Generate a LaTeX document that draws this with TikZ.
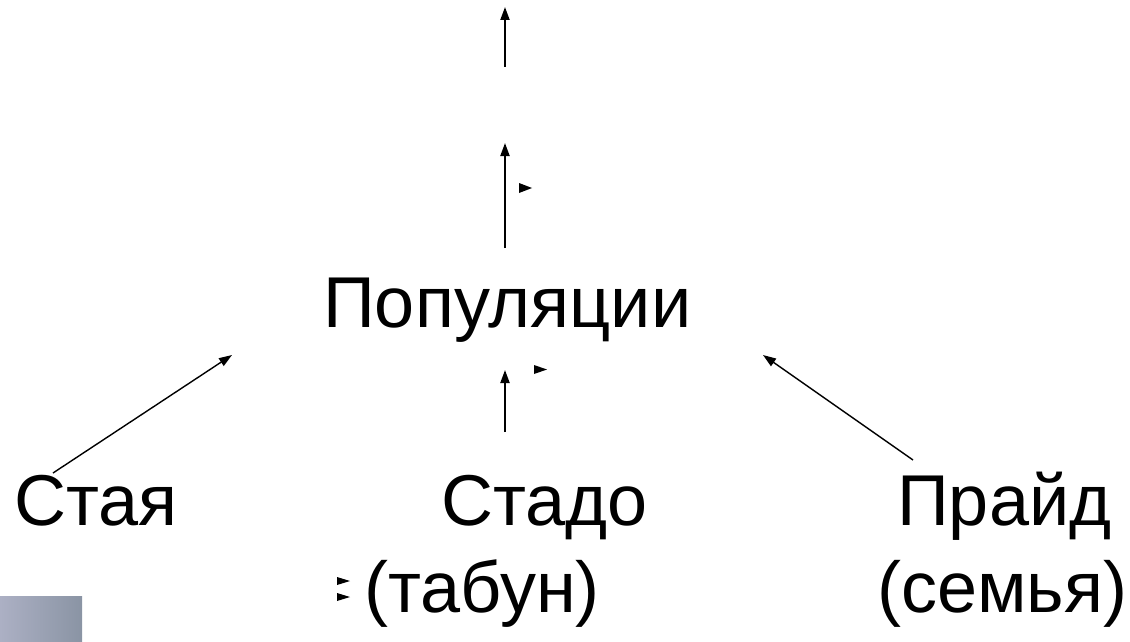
\documentclass[tikz,border=0pt]{standalone}
\usepackage{fontspec}
\setmainfont{Liberation Sans}
\usepackage{tikz}
\usetikzlibrary{positioning}
\usetikzlibrary{calc}
\usetikzlibrary{arrows.meta}

\definecolor{boxleft}{RGB}{172,176,196}
\definecolor{boxright}{RGB}{138,148,164}

\begin{document}
\begin{tikzpicture}[x=1pt,y=-1pt,
      levelword/.style={inner sep=0pt,anchor=base west,font=\fontsize{72}{80}\selectfont},
      uparrow/.style={-{Triangle[length=13pt,width=9pt]},line width=2pt},
      sidearrow/.style={-{Triangle[length=13pt,width=9pt]},line width=1.4pt},
      marker/.style={fill=black,draw=none}]
    \useasboundingbox (0,0) rectangle (1130,642);

    % Blocks
    \node[levelword] (population) at (323,327) {Популяции};
    \node[levelword] (flock)      at (14,525)  {Стая};
    \node[levelword] (herd)       at (441,525) {Стадо};
    \node[levelword] (pride)      at (897,525) {Прайд};
    \node[levelword] (herdnote)   at (364,612) {(табун)};
    \node[levelword] (pridenote)  at (877,612) {(семья)};

    % Free ends
    \coordinate (topfoot) at (505,67);
    \coordinate (toptip)  at (505,7);
    \coordinate (midfoot) at (505,248);
    \coordinate (midtip)  at (505,143);
    \coordinate (herdfoot) at (505,432);
    \coordinate (herdtip)  at (505,370);
    \coordinate (flockfoot) at (53,473);
    \coordinate (flocktip)  at (232,355);
    \coordinate (pridefoot) at (913,460);
    \coordinate (pridetip)  at (763,355);

    % Arrows
    \draw[uparrow]   (topfoot) -- (toptip);
    \draw[uparrow]   (midfoot) -- (midtip);
    \draw[uparrow]   (herdfoot) -- (herdtip);
    \draw[sidearrow] (flockfoot) -- (flocktip);
    \draw[sidearrow] (pridefoot) -- (pridetip);

    % Stray markers
    \fill[marker] (519,183) -- (532,188) -- (519,193) -- cycle;
    \fill[marker] (534,365) -- (547,369.5) -- (534,374) -- cycle;
    \fill[marker] (337,577) -- (350,581) -- (337,585) -- cycle;
    \fill[marker] (337,593) -- (350,597) -- (337,601) -- cycle;

    % Corner box
    \shade[left color=boxleft,right color=boxright] (0,596) rectangle (82,642);
  \end{tikzpicture}
\end{document}
